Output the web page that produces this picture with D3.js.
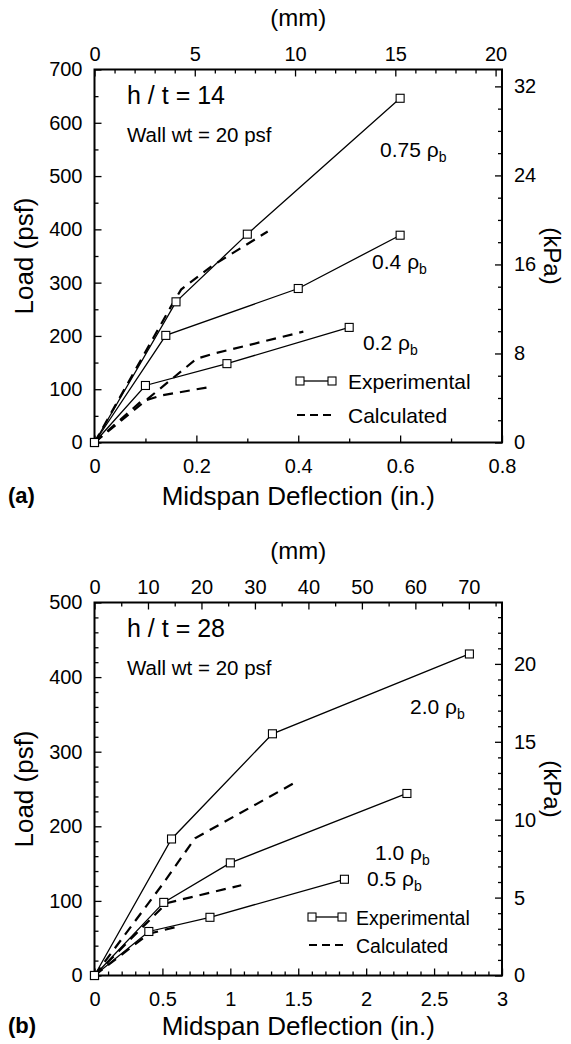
<!DOCTYPE html>
<html><head><meta charset="utf-8">
<script src="https://cdn.jsdelivr.net/npm/d3@7"></script>
<style>
body{margin:0;background:#fff}
svg{display:block}
text{font-family:"Liberation Sans",Arial,Helvetica,sans-serif;fill:#000}
</style>
</head><body>
<svg id="chart" width="571" height="1044"></svg>
<script>
// ---------- data ----------
const KPA_PER_PSF = 1 / 20.885;
const MM_PER_IN = 25.4;

// panel (a)  h/t = 14
const aInTicks = [0, 0.2, 0.4, 0.6, 0.8];
const aInMinor = [0.1, 0.3, 0.5, 0.7];
const aPsfTicks = [0, 100, 200, 300, 400, 500, 600, 700];
const aPsfMinor = [50, 150, 250, 350, 450, 550, 650];
const aMmTicks = [0, 5, 10, 15, 20];
const aMmMinor = [1,2,3,4,6,7,8,9,11,12,13,14,16,17,18,19];
const aKpaTicks = [0, 8, 16, 24, 32];
const aKpaMinor = [2,4,6,10,12,14,18,20,22,26,28,30];

const expA075 = [[0,0],[0.16,264],[0.30,391],[0.60,646]];
const expA040 = [[0,0],[0.14,201],[0.40,289],[0.60,389]];
const expA020 = [[0,0],[0.10,107],[0.26,148],[0.50,216]];
const calcA075 = [[0,0],[0.15,255],[0.17,287],[0.23,331],[0.34,396]];
const calcA040 = [[0,0],[0.20,157],[0.235,167],[0.41,208]];
const calcA020 = [[0,0],[0.09,76],[0.13,88],[0.225,104]];
const labelsA = [["0.75", 0.5605, 536], ["0.4", 0.545, 326], ["0.2", 0.527, 174]];

// panel (b)  h/t = 28
const bInTicks = [0, 0.5, 1, 1.5, 2, 2.5, 3];
const bInMinor = [0.1,0.2,0.3,0.4,0.6,0.7,0.8,0.9,1.1,1.2,1.3,1.4,1.6,1.7,1.8,1.9,2.1,2.2,2.3,2.4,2.6,2.7,2.8,2.9];
const bPsfTicks = [0, 100, 200, 300, 400, 500];
const bPsfMinor = [20,40,60,80,120,140,160,180,220,240,260,280,320,340,360,380,420,440,460,480];
const bMmTicks = [0, 10, 20, 30, 40, 50, 60, 70];
const bMmMinor = [5, 15, 25, 35, 45, 55, 65, 75];
const bKpaTicks = [0, 5, 10, 15, 20];
const bKpaMinor = [1,2,3,4,6,7,8,9,11,12,13,14,16,17,18,19,21,22,23];

const expB20 = [[0,0],[0.567,183],[1.31,324],[2.76,431]];
const expB10 = [[0,0],[0.51,98],[1.0,151],[2.3,244]];
const expB05 = [[0,0],[0.40,59],[0.85,78],[1.84,129]];
const calcB20 = [[0,0],[0.5,122],[0.74,184],[1.48,259]];
const calcB10 = [[0,0],[0.53,97],[1.08,121]];
const calcB05 = [[0,0],[0.40,56],[0.60,65]];
const labelsB = [["2.0", 2.323, 350], ["1.0", 2.065, 155], ["0.5", 2.006, 120]];

const legendNames = ["Experimental", "Calculated"];

// ---------- drawing ----------
const svg = d3.select("#chart");

function panel(o) {
  const L = 94.5, R = 502, T = o.top, B = o.top + 373;
  const x = d3.scaleLinear().domain([0, o.xMax]).range([L, R]);
  const y = d3.scaleLinear().domain([0, o.yMax]).range([B, T]);
  const xmm = d3.scaleLinear().domain([0, o.xMax * MM_PER_IN]).range([L, R]);
  const ykpa = d3.scaleLinear().domain([0, o.yMax * KPA_PER_PSF]).range([B, T]);
  const g = svg.append("g");

  function ax(axisFn, scale, pos, major, minor, fmt, pad) {
    const gm = g.append("g").attr("transform", pos)
      .call(axisFn(scale).tickValues(minor).tickSize(-4).tickFormat(""));
    const gM = g.append("g").attr("transform", pos)
      .call(axisFn(scale).tickValues(major).tickSize(-7).tickPadding(pad).tickFormat(fmt));
    [gm, gM].forEach(s => {
      s.select(".domain").remove();
      s.selectAll("line").attr("stroke", "#000").attr("stroke-width", 1.3);
      s.attr("font-family", null).attr("font-size", null);
    });
    gM.selectAll("text").attr("font-size", 20).attr("fill", "#000");
    return gM;
  }
  ax(d3.axisBottom, x, `translate(0,${B})`, o.inTicks, o.inMinor, d => String(d), 16);
  ax(d3.axisLeft, y, `translate(${L},0)`, o.psfTicks, o.psfMinor, d => String(d), 12);
  ax(d3.axisTop, xmm, `translate(0,${T})`, o.mmTicks, o.mmMinor, d => String(d), 9);
  ax(d3.axisRight, ykpa, `translate(${R},0)`, o.kpaTicks, o.kpaMinor, d => String(d), 12);

  g.append("rect").attr("x", L).attr("y", T).attr("width", R - L).attr("height", B - T)
    .attr("fill", "none").attr("stroke", "#000").attr("stroke-width", 2);

  const line = d3.line().x(d => x(d[0])).y(d => y(d[1]));
  o.calc.forEach(s => g.append("path").attr("d", line(s)).attr("fill", "none")
    .attr("stroke", "#000").attr("stroke-width", 2.2).attr("stroke-dasharray", "10,7"));
  o.exp.forEach(s => {
    g.append("path").attr("d", line(s)).attr("fill", "none")
      .attr("stroke", "#000").attr("stroke-width", 1.3);
    g.selectAll(null).data(s).enter().append("rect")
      .attr("x", d => x(d[0]) - 4).attr("y", d => y(d[1]) - 4)
      .attr("width", 8).attr("height", 8)
      .attr("fill", "#fff").attr("stroke", "#000").attr("stroke-width", 1.1);
  });

  o.labels.forEach(([t, lx, ly]) => {
    const tx = g.append("text").attr("x", x(lx)).attr("y", y(ly)).attr("font-size", 21);
    tx.append("tspan").text(t + " \u03C1");
    tx.append("tspan").attr("font-size", 14).attr("dy", 5).text("b");
  });

  // annotations
  g.append("text").attr("x", L + 32.5).attr("y", T + 34).attr("font-size", 25).text(o.ratio);
  g.append("text").attr("x", L + 32.5).attr("y", T + 72).attr("font-size", 20.5).text("Wall wt = 20 psf");

  // legend
  const lg = o.legend;
  g.append("line").attr("x1", lg.x1).attr("x2", lg.x2).attr("y1", lg.y1).attr("y2", lg.y1)
    .attr("stroke", "#000").attr("stroke-width", 1.3);
  [lg.x1, lg.x2].forEach(px => g.append("rect").attr("x", px - 4).attr("y", lg.y1 - 4)
    .attr("width", 8).attr("height", 8).attr("fill", "#fff").attr("stroke", "#000").attr("stroke-width", 1.1));
  g.append("line").attr("x1", lg.x1 - 3).attr("x2", lg.x2 + 3).attr("y1", lg.y2).attr("y2", lg.y2)
    .attr("stroke", "#000").attr("stroke-width", 2.2).attr("stroke-dasharray", "8,5");
  g.append("text").attr("x", lg.tx).attr("y", lg.y1 + 7.5).attr("font-size", lg.fs).text(legendNames[0]);
  g.append("text").attr("x", lg.tx).attr("y", lg.y2 + 7.5).attr("font-size", lg.fs).text(legendNames[1]);

  // axis titles
  g.append("text").attr("x", (L + R) / 2).attr("y", T - 44).attr("text-anchor", "middle")
    .attr("font-size", 24).text("(mm)");
  g.append("text").attr("x", (L + R) / 2).attr("y", B + o.titleOff).attr("text-anchor", "middle")
    .attr("font-size", 26).text("Midspan Deflection (in.)");
  g.append("text").attr("transform", `translate(33,${(T + B) / 2}) rotate(-90)`)
    .attr("text-anchor", "middle").attr("font-size", 26).text("Load (psf)");
  g.append("text").attr("transform", `translate(544,${(T + B) / 2}) rotate(90)`)
    .attr("text-anchor", "middle").attr("font-size", 24).text("(kPa)");
  g.append("text").attr("x", 8).attr("y", B + o.titleOff - 2).attr("font-size", 22)
    .attr("font-weight", "bold").text(o.tag);
}

panel({
  top: 69.5, xMax: 0.8, yMax: 700, tag: "(a)", ratio: "h / t = 14", titleOff: 62,
  inTicks: aInTicks, inMinor: aInMinor, psfTicks: aPsfTicks, psfMinor: aPsfMinor,
  mmTicks: aMmTicks, mmMinor: aMmMinor, kpaTicks: aKpaTicks, kpaMinor: aKpaMinor,
  exp: [expA075, expA040, expA020], calc: [calcA075, calcA040, calcA020], labels: labelsA,
  legend: {x1: 300, x2: 332, y1: 381, y2: 415, tx: 348, fs: 21}
});
panel({
  top: 602.5, xMax: 3, yMax: 500, tag: "(b)", ratio: "h / t = 28", titleOff: 59,
  inTicks: bInTicks, inMinor: bInMinor, psfTicks: bPsfTicks, psfMinor: bPsfMinor,
  mmTicks: bMmTicks, mmMinor: bMmMinor, kpaTicks: bKpaTicks, kpaMinor: bKpaMinor,
  exp: [expB20, expB10, expB05], calc: [calcB20, calcB10, calcB05], labels: labelsB,
  legend: {x1: 312, x2: 342, y1: 917, y2: 945, tx: 356, fs: 19.5}
});
</script>
</body></html>
